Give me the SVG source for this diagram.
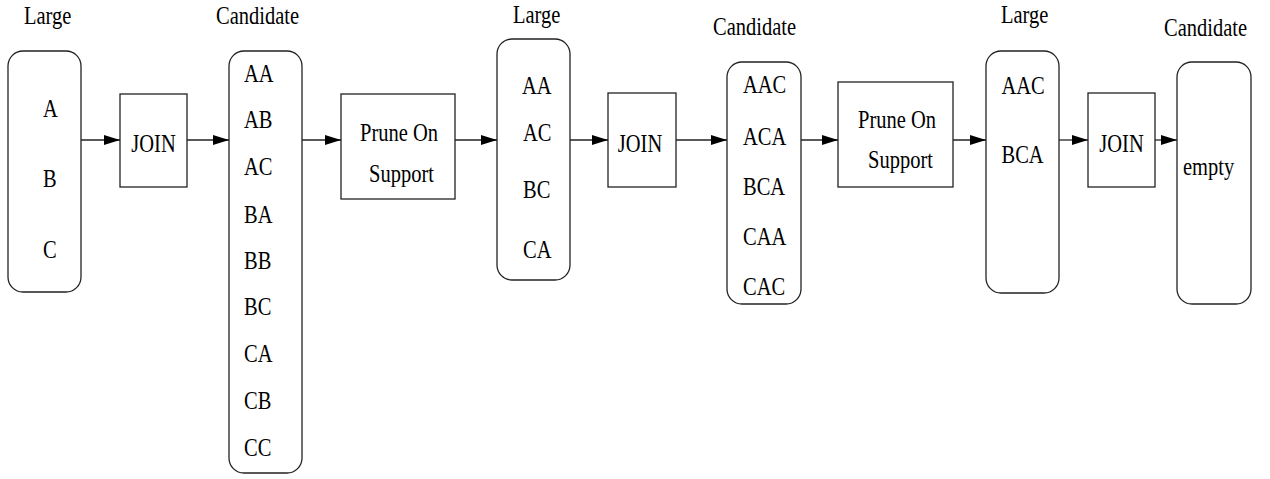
<svg xmlns="http://www.w3.org/2000/svg" width="1270" height="479" viewBox="0 0 1270 479" font-family="Liberation Serif, DejaVu Serif, serif">
<style>
.box{fill:none;stroke:#222;stroke-width:1.3}
.t{font-size:25px;fill:#000}
.c{stroke:#222;stroke-width:1.3;fill:none;marker-end:url(#ah)}
</style>
<defs>
<marker id="ah" markerUnits="userSpaceOnUse" markerWidth="17" markerHeight="11" refX="16" refY="5" orient="auto">
<path d="M0,0 L16,5 L0,10 z" fill="#000"/>
</marker>
</defs>
<rect width="1270" height="479" fill="#fff"/>
<g id="labels">
<text class="t" transform="translate(24,24) scale(0.82 1)">Large</text>
<text class="t" transform="translate(216,24) scale(0.82 1)">Candidate</text>
<text class="t" transform="translate(513,23) scale(0.82 1)">Large</text>
<text class="t" transform="translate(713,35) scale(0.82 1)">Candidate</text>
<text class="t" transform="translate(1001,23) scale(0.82 1)">Large</text>
<text class="t" transform="translate(1164,36) scale(0.82 1)">Candidate</text>
</g>
<g id="large1">
<rect class="box" x="8" y="51" width="73" height="241" rx="15"/>
<text class="t" transform="translate(43,117) scale(0.82 1)">A</text>
<text class="t" transform="translate(43,187) scale(0.82 1)">B</text>
<text class="t" transform="translate(43,258) scale(0.82 1)">C</text>
</g>
<g id="join1">
<rect class="box" x="120" y="94" width="67" height="93"/>
<text class="t" text-anchor="middle" transform="translate(153.5,152) scale(0.82 1)">JOIN</text>
</g>
<g id="candidate1">
<rect class="box" x="229" y="51" width="73" height="422" rx="15"/>
<text class="t" transform="translate(244,82) scale(0.82 1)">AA</text>
<text class="t" transform="translate(244,128) scale(0.82 1)">AB</text>
<text class="t" transform="translate(244,175) scale(0.82 1)">AC</text>
<text class="t" transform="translate(244,223) scale(0.82 1)">BA</text>
<text class="t" transform="translate(244,269) scale(0.82 1)">BB</text>
<text class="t" transform="translate(244,315) scale(0.82 1)">BC</text>
<text class="t" transform="translate(244,362) scale(0.82 1)">CA</text>
<text class="t" transform="translate(244,409) scale(0.82 1)">CB</text>
<text class="t" transform="translate(244,456) scale(0.82 1)">CC</text>
</g>
<g id="prune1">
<rect class="box" x="341" y="94" width="114" height="105"/>
<text class="t" transform="translate(360,141) scale(0.82 1)">Prune On</text>
<text class="t" transform="translate(369,182) scale(0.82 1)">Support</text>
</g>
<g id="large2">
<rect class="box" x="497" y="39" width="73" height="241" rx="15"/>
<text class="t" transform="translate(522,94) scale(0.82 1)">AA</text>
<text class="t" transform="translate(523,141) scale(0.82 1)">AC</text>
<text class="t" transform="translate(523,198) scale(0.82 1)">BC</text>
<text class="t" transform="translate(523,258) scale(0.82 1)">CA</text>
</g>
<g id="join2">
<rect class="box" x="608" y="93" width="68" height="94"/>
<text class="t" text-anchor="middle" transform="translate(640,152) scale(0.82 1)">JOIN</text>
</g>
<g id="candidate2">
<rect class="box" x="727" y="62" width="74" height="242" rx="15"/>
<text class="t" transform="translate(743,93) scale(0.82 1)">AAC</text>
<text class="t" transform="translate(743,145) scale(0.82 1)">ACA</text>
<text class="t" transform="translate(743,195) scale(0.82 1)">BCA</text>
<text class="t" transform="translate(743,245) scale(0.82 1)">CAA</text>
<text class="t" transform="translate(743,295) scale(0.82 1)">CAC</text>
</g>
<g id="prune2">
<rect class="box" x="838" y="82" width="115" height="105"/>
<text class="t" transform="translate(858,128) scale(0.82 1)">Prune On</text>
<text class="t" transform="translate(868,168) scale(0.82 1)">Support</text>
</g>
<g id="large3">
<rect class="box" x="986" y="51" width="73" height="242" rx="15"/>
<text class="t" transform="translate(1001.5,94) scale(0.82 1)">AAC</text>
<text class="t" transform="translate(1001.5,163) scale(0.82 1)">BCA</text>
</g>
<g id="join3">
<rect class="box" x="1088" y="93" width="67" height="94"/>
<text class="t" text-anchor="middle" transform="translate(1121.5,152) scale(0.82 1)">JOIN</text>
</g>
<g id="candidate3">
<rect class="box" x="1177" y="62" width="74" height="242" rx="15"/>
<text class="t" transform="translate(1183,175) scale(0.82 1)">empty</text>
</g>
<g id="connectors">
<line class="c" x1="81" y1="140" x2="120" y2="140"/>
<line class="c" x1="187" y1="140" x2="229" y2="140"/>
<line class="c" x1="302" y1="140" x2="341" y2="140"/>
<line class="c" x1="455" y1="140" x2="497" y2="140"/>
<line class="c" x1="570" y1="140" x2="608" y2="140"/>
<line class="c" x1="676" y1="140" x2="727" y2="140"/>
<line class="c" x1="801" y1="140" x2="838" y2="140"/>
<line class="c" x1="953" y1="140" x2="986" y2="140"/>
<line class="c" x1="1059" y1="140" x2="1088" y2="140"/>
<line class="c" x1="1155" y1="140" x2="1177" y2="140"/>
</g>
</svg>
